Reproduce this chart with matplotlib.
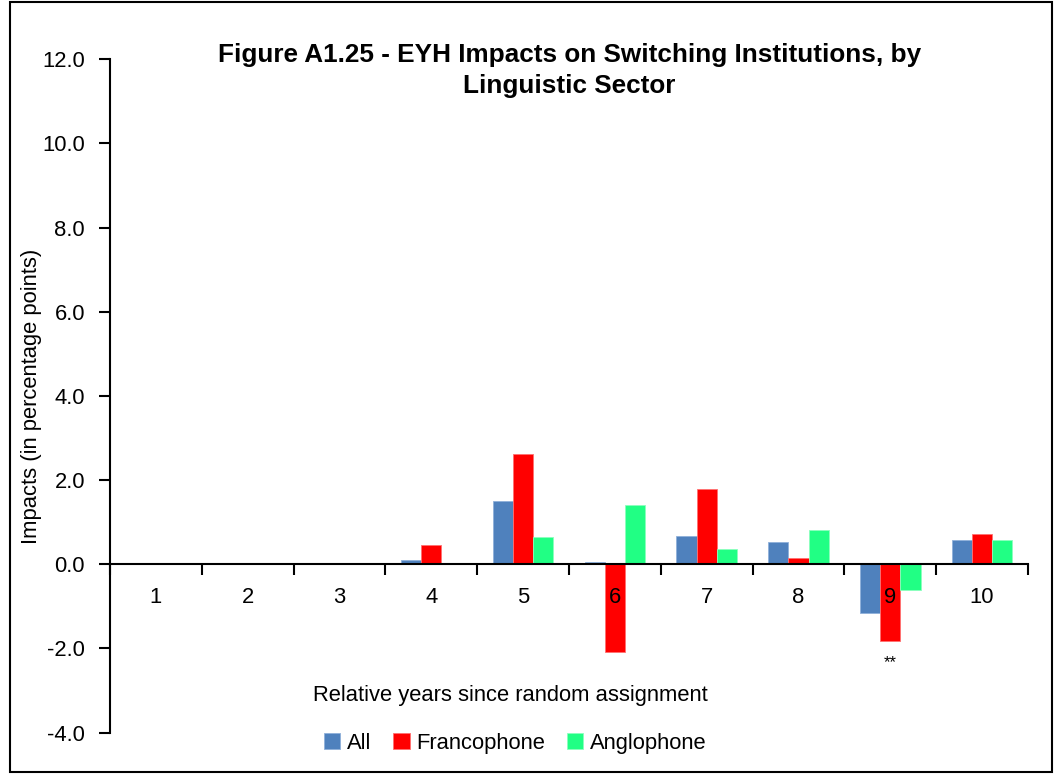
import numpy as np
import matplotlib.pyplot as plt
from matplotlib.patches import Rectangle

# Datos
years = ['1', '2', '3', '4', '5', '6', '7', '8', '9', '10']
all_vals = [0, 0, 0, 0.10, 1.51, 0.06, 0.67, 0.52, -1.16, 0.57]
franco_vals = [0, 0, 0, 0.47, 2.62, -2.09, 1.78, 0.15, -1.82, 0.72]
anglo_vals = [0, 0, 0, 0, 0.66, 1.41, 0.36, 0.81, -0.61, 0.57]
signif = {'9': '**'}

plt.rcParams['font.family'] = ['Liberation Sans Narrow', 'Liberation Sans', 'DejaVu Sans']
fs = 15.8

fig = plt.figure(figsize=(10.58, 7.74), dpi=100)
ax = fig.add_axes([0.104, 0.0534, 0.8676, 0.870])

x = np.arange(1, len(years) + 1)
w = 0.22
ax.bar(x - w, all_vals, w, color='#4F81BD', edgecolor='#8FB0DA', linewidth=0.6, label='All')
ax.bar(x, franco_vals, w, color='#FF0000', edgecolor='#FF7070', linewidth=0.6, label='Francophone')
ax.bar(x + w, anglo_vals, w, color='#21FF84', edgecolor='#8CFFBE', linewidth=0.6, label='Anglophone')

ax.set_xlim(0.5, len(years) + 0.5)
ax.set_ylim(-4, 12)
ax.set_yticks(np.arange(-4, 12.1, 2))
ax.set_yticklabels([f'{v:.1f}' for v in np.arange(-4, 12.1, 2)], fontsize=fs)

# eje x en cero
ax.spines['bottom'].set_position(('data', 0))
ax.spines['top'].set_visible(False)
ax.spines['right'].set_visible(False)
ax.spines['left'].set_linewidth(1.5)
ax.spines['bottom'].set_linewidth(1.5)
ax.set_xticks(np.arange(0.5, len(years) + 1, 1))
ax.set_xticklabels([])
ax.tick_params(axis='x', direction='out', length=8, width=1.5)
ax.tick_params(axis='y', direction='out', length=8, width=1.5, pad=10)
for xi, lab in zip(x, years):
    ax.text(xi, -0.8, lab, ha='center', va='center', fontsize=fs)
for xi, lab in zip(x, years):
    if lab in signif:
        ax.text(xi, -2.33, signif[lab], ha='center', va='center', fontsize=12)

ax.set_ylabel('Impacts (in percentage points)', fontsize=fs, labelpad=0)
fig.text(0.482, 0.102, 'Relative years since random assignment', ha='center', va='center', fontsize=fs)
fig.text(0.538, 0.909, 'Figure A1.25 - EYH Impacts on Switching Institutions, by\nLinguistic Sector',
         ha='center', va='center', fontsize=18.8, fontweight='bold', linespacing=1.4)

ax.legend(loc='center', bbox_to_anchor=(0.487, 0.04), bbox_transform=fig.transFigure, ncol=3,
          frameon=False, fontsize=fs, handlelength=0.75, handleheight=0.75, handletextpad=0.3,
          columnspacing=1.0)

fig.patches.append(Rectangle((0.009, 0.003), 0.985, 0.995, transform=fig.transFigure,
                             fill=False, edgecolor='black', linewidth=1.5))

fig.savefig('out.png', dpi=100)
